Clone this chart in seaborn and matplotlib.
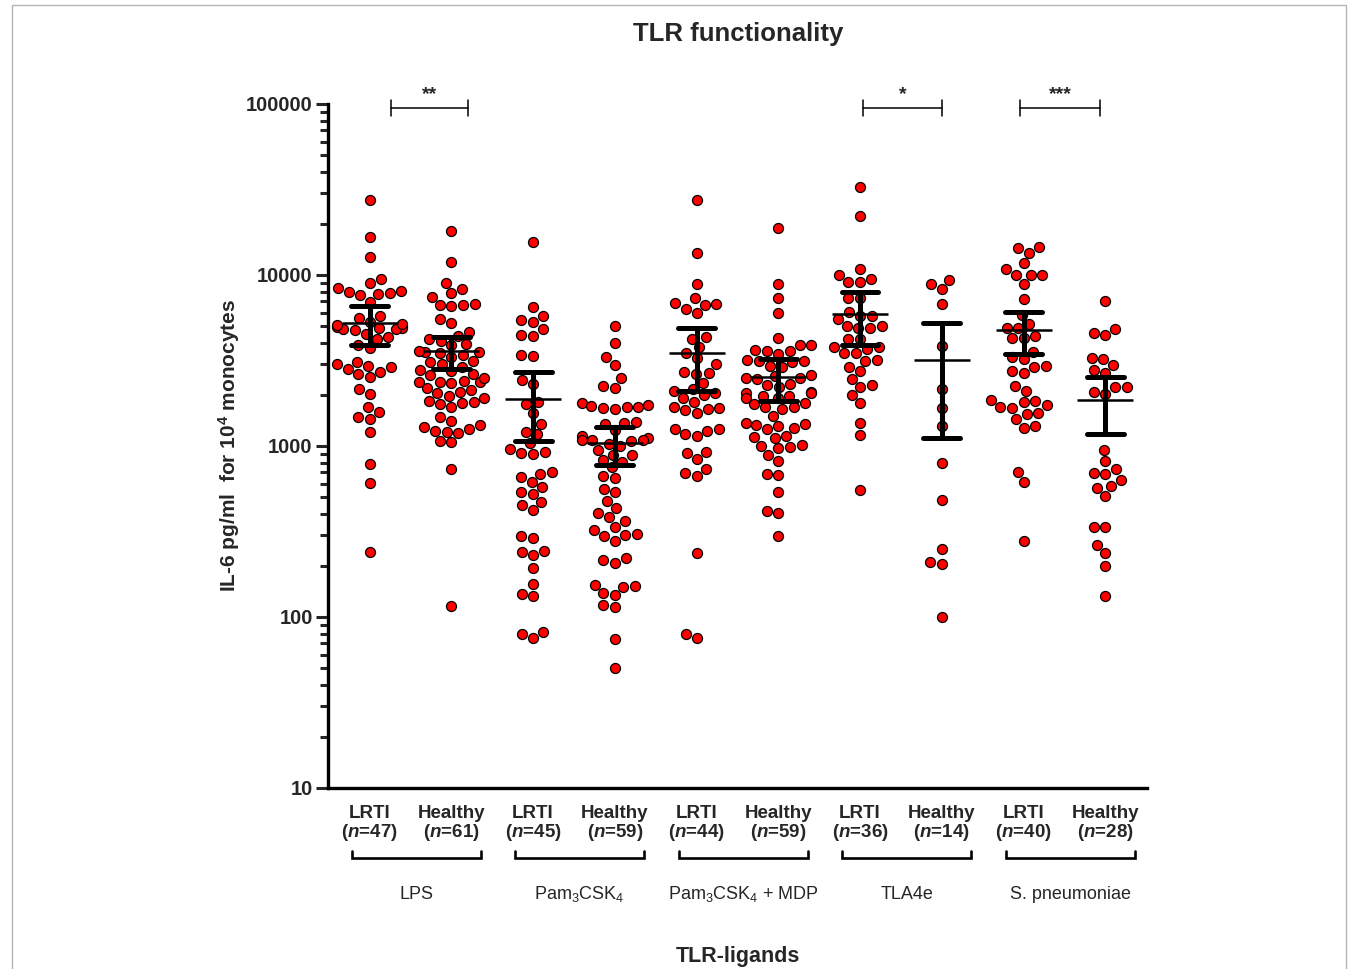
import numpy as np
import pandas as pd
import matplotlib
matplotlib.use("Agg")
import matplotlib.pyplot as plt
import matplotlib.ticker as mticker
from matplotlib.patches import Rectangle
import seaborn as sns

# ---------------- data (IL-6 pg/ml per 10^4 monocytes) ----------------
ligands = ["LPS", "Pam$_3$CSK$_4$", "Pam$_3$CSK$_4$ + MDP", "TLA4e", "S. pneumoniae"]
cohorts = ["LRTI", "Healthy"]

lps_lrti = [27500, 16700, 12700, 9480, 8980, 8400, 7600, 7750, 7850, 7950, 8100, 6950,
            5600, 5750, 5000, 4950, 4900, 4850, 4800, 4750, 4900, 5100, 5200, 5300, 4500,
            4230, 4330, 3900, 3740, 3100, 2940, 3020, 2820, 2900, 2630, 2710, 2530, 2150,
            2010, 1690, 1580, 1440, 1480, 1210, 785, 608, 240]
lps_healthy = [18100, 11900, 8980, 8300, 7850, 7450, 6600, 6650, 6700, 6750, 5540, 5230,
               4650, 4380, 4130, 4210, 3870, 3930, 3500, 3530, 3560, 3590, 3400, 3080, 3120,
               2900, 2800, 2650, 2340, 2360, 2370, 2380, 2400, 2130, 2170, 2040, 2080, 1920,
               1960, 1830, 1760, 1780, 1800, 1690, 1475, 1400, 1330, 1290, 1260, 1190, 1210,
               1230, 1050, 1070, 735, 116, 3300, 3000, 2750, 2600, 2500]
pam_lrti = [15600, 6500, 5750, 5340, 5420, 4830, 4420, 4480, 3380, 3420, 2430, 2300, 1760,
            1800, 1560, 1350, 1210, 1170, 1040, 960, 900, 910, 920, 705, 686, 659, 615, 575,
            538, 524, 471, 452, 423, 298, 290, 243, 240, 230, 194, 156, 133, 137, 81.6, 79.6,
            75.4]
pam_healthy = [5030, 4000, 3310, 2980, 2500, 2190, 2230, 1780, 1650, 1670, 1690, 1700, 1710,
               1730, 1370, 1390, 1345, 1240, 1150, 1120, 1070, 1080, 1085, 1090, 1005, 1025,
               950, 880, 890, 810, 825, 753, 650, 668, 561, 538, 477, 434, 405, 384, 364, 336,
               323, 298, 302, 306, 278, 221, 215, 207, 150, 152, 154, 134, 138, 115, 117, 74.3,
               50.3]
mdp_lrti = [27500, 13400, 8850, 7330, 6700, 6760, 6820, 6330, 6000, 4250, 4310, 3790, 3500,
            3270, 3000, 2640, 2670, 2700, 2340, 2100, 2140, 1990, 2030, 1910, 1810, 1650, 1670,
            1690, 1620, 1560, 1260, 1220, 1170, 1140, 1250, 910, 925, 840, 733, 695, 668, 237,
            79.6, 75.4]
mdp_healthy = [18800, 8850, 7330, 6000, 4280, 3880, 3920, 3570, 3600, 3630, 3430, 3160, 3200,
               3080, 3120, 2880, 2920, 2600, 2510, 2550, 2450, 2490, 2300, 2270, 2210, 2070,
               2030, 2050, 1950, 1970, 1900, 1920, 1770, 1790, 1680, 1700, 1650, 1345, 1310,
               1260, 1280, 1330, 1365, 1130, 1120, 1140, 1000, 985, 970, 1010, 885, 817, 686,
               675, 538, 405, 417, 298, 1500]
tla_lrti = [32700, 22100, 10800, 10000, 9480, 9050, 9150, 7300, 7360, 6080, 5720, 5780, 5540,
            5000, 5060, 4880, 4920, 4200, 4240, 3770, 3810, 3690, 3480, 3520, 3160, 3200, 2900,
            2760, 2470, 2270, 2210, 1980, 1780, 1365, 1160, 553]
tla_healthy = [9350, 8850, 8300, 6760, 3840, 2150, 1670, 1310, 796, 483, 250, 205, 209, 100]
sp_lrti = [14300, 14500, 13400, 11700, 10800, 9950, 10000, 10050, 8850, 7240, 5830, 5170,
           4880, 4920, 4400, 4260, 4300, 3550, 3310, 3220, 2880, 2920, 2760, 2670, 2240, 2100,
           1810, 1830, 1850, 1740, 1660, 1680, 1560, 1540, 1440, 1280, 1300, 705, 615, 278]
sp_healthy = [7050, 4830, 4600, 4450, 3270, 3220, 2980, 2800, 2670, 2200, 2220, 2070, 2010,
              950, 817, 735, 686, 695, 632, 583, 567, 510, 334, 338, 264, 237, 199, 133]

series = [lps_lrti, lps_healthy, pam_lrti, pam_healthy, mdp_lrti, mdp_healthy,
          tla_lrti, tla_healthy, sp_lrti, sp_healthy]
sig_pairs = [(0, 1, "**"), (6, 7, "*"), (8, 9, "***")]

# ---------------- table ----------------
keys, tick_labels, rows = [], [], []
for gi, lig in enumerate(ligands):
    for ci, coh in enumerate(cohorts):
        vals = series[2 * gi + ci]
        key = f"{gi}-{coh}"
        keys.append(key)
        tick_labels.append(f"{coh}\n($\\mathit{{n}}$={len(vals)})")
        rows += [(key, v) for v in vals]
df = pd.DataFrame(rows, columns=["group", "value"])

# ---------------- style ----------------
sns.set_style("ticks")
plt.rcParams["font.family"] = ["Liberation Sans", "DejaVu Sans"]
plt.rcParams["mathtext.fontset"] = "custom"
plt.rcParams["mathtext.rm"] = "Liberation Sans"
plt.rcParams["mathtext.it"] = "Liberation Sans:italic:bold"
plt.rcParams["mathtext.bf"] = "Liberation Sans:bold"

fig = plt.figure(figsize=(13.58, 9.69), dpi=100)
ax = fig.add_axes([0.2415, 0.1868, 0.6031, 0.7059])


def ci95(v):
    v = np.asarray(v, dtype=float)
    n = len(v)
    m = v.mean()
    se = v.std(ddof=1) / np.sqrt(n)
    t = 1.96 + 2.5 / (n - 1)
    return m - t * se, m + t * se


# mean + 95% CI (computed on the linear values)
sns.pointplot(data=df, x="group", y="value", order=keys, estimator="mean",
              errorbar=ci95, color="black", markers="_", markersize=41,
              markeredgewidth=1.8, linestyle="none", capsize=0.45,
              err_kws={"linewidth": 3.6}, ax=ax)

ax.set_yscale("log")
sns.swarmplot(data=df, x="group", y="value", order=keys, color="#ff0000",
              edgecolor="black", linewidth=0.9, size=7.2, ax=ax, zorder=1)

ax.set_ylim(10, 100000)
ax.set_xlim(-0.51, 9.51)
ax.yaxis.set_major_locator(mticker.LogLocator(base=10, numticks=20))
ax.yaxis.set_minor_locator(mticker.LogLocator(base=10, subs=np.arange(2, 10), numticks=200))
ax.yaxis.set_major_formatter(mticker.FuncFormatter(lambda v, p: f"{int(round(v))}"))
ax.yaxis.set_minor_formatter(mticker.NullFormatter())

for s in ["top", "right"]:
    ax.spines[s].set_visible(False)
for s in ["left", "bottom"]:
    ax.spines[s].set_linewidth(2.4)
    ax.spines[s].set_color("black")

ax.tick_params(axis="y", which="major", length=9, width=2.2, labelsize=14.5, pad=2)
ax.tick_params(axis="y", which="minor", length=5.5, width=2.2)
ax.tick_params(axis="x", length=0, labelsize=13.5, pad=12)
for lab in ax.get_yticklabels():
    lab.set_fontweight("bold")
ax.set_xticks(range(len(keys)))
ax.set_xticklabels(tick_labels, fontweight="bold", linespacing=1.05)
ax.set_xlabel("")
ax.set_ylabel("")

# group brackets and ligand names below the axis
tr = ax.get_xaxis_transform()
for gi, lig in enumerate(ligands):
    x0, x1 = 2 * gi - 0.22, 2 * gi + 1.36
    ax.plot([x0, x0, x1, x1], [-0.092, -0.103, -0.103, -0.092], transform=tr,
            color="black", lw=1.9, clip_on=False, solid_joinstyle="miter")
    ax.text(2 * gi + 0.57, -0.155, lig, transform=tr, ha="center", va="center",
            fontsize=13)

# significance brackets
sig_spans = {(0, 1): (0.26, 1.2), (6, 7): (6.04, 7.0), (8, 9): (7.96, 8.94)}
for a, b, star in sig_pairs:
    x0, x1 = sig_spans[(a, b)]
    ax.plot([x0, x1], [94900, 94900], color="black", lw=1.1, clip_on=False)
    for xx in (x0, x1):
        ax.plot([xx, xx], [85000, 106000], color="black", lw=1.1, clip_on=False)
    ax.text((x0 + x1) / 2, 101000, star, ha="center", va="bottom",
            fontsize=14, fontweight="bold", clip_on=False)

fig.text(0.5435, 0.965, "TLR functionality", ha="center", va="center",
         fontsize=18.5, fontweight="bold")
fig.text(0.5435, 0.013, "TLR-ligands", ha="center", va="center",
         fontsize=15.5, fontweight="bold")
fig.text(0.169, 0.54, "IL-6 pg/ml  for 10$^{\\mathbf{4}}$ monocytes", rotation=90,
         ha="center", va="center", fontsize=15, fontweight="bold")

fig.add_artist(Rectangle((0.0088, -0.01), 0.9824, 1.0048, transform=fig.transFigure,
                         fill=False, edgecolor="#b5b5b5", linewidth=1.0))

fig.savefig("out.png", dpi=100)
